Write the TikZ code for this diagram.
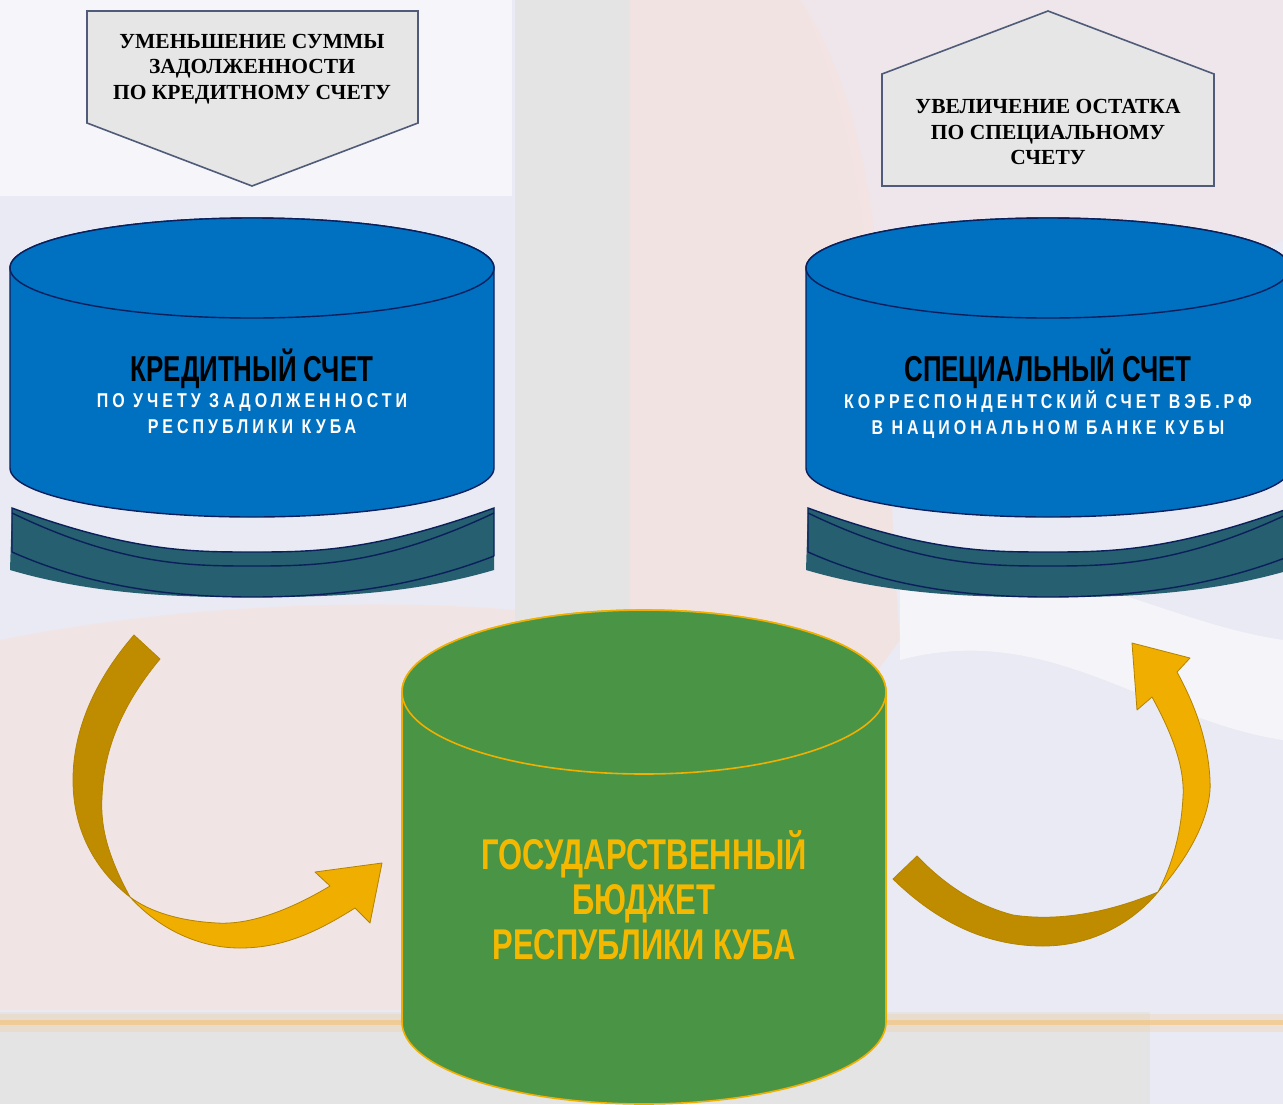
\documentclass[tikz,border=0pt]{standalone}
\usepackage{fontspec}
\setmainfont{Liberation Serif}
\newfontfamily\narrowsans[FakeStretch=0.72]{Liberation Sans}
\newfontfamily\spacedsans[FakeStretch=0.8,LetterSpace=20]{Liberation Sans}
\definecolor{bgbase}{HTML}{E9EAF3}
\definecolor{bgpink}{HTML}{F4E3E2}
\definecolor{bggrey}{HTML}{E4E4E5}
\definecolor{boxfill}{HTML}{E6E6E6}
\definecolor{boxline}{HTML}{4F5B78}
\definecolor{cylblue}{HTML}{0070C0}
\definecolor{navy}{HTML}{0A1F5C}
\definecolor{tealbase}{HTML}{265F6F}
\definecolor{cylgreen}{HTML}{4A9446}
\definecolor{goldline}{HTML}{F0B000}
\definecolor{goldtext}{HTML}{F5B800}
\definecolor{arrowdark}{HTML}{BF8C00}
\definecolor{arrowlight}{HTML}{F0AE00}
\definecolor{arrowedge}{HTML}{B38300}
\definecolor{glow}{HTML}{F2C88A}
\tikzset{
  pentabox/.style={fill=boxfill, draw=boxline, line width=1.6pt, line join=miter},
  bluecyl/.style={fill=cylblue, draw=navy, line width=1.4pt},
  tealring/.style={fill=tealbase},
  tealedge/.style={draw=navy, line width=1.4pt},
  greencyl/.style={fill=cylgreen, draw=goldline, line width=1.6pt},
  darkband/.style={fill=arrowdark, draw=arrowedge, line width=0.8pt, line join=round},
  lightband/.style={fill=arrowlight, draw=arrowedge, line width=0.8pt, line join=round},
  boxtext/.style={font=\fontsize{21.5}{25.3}\selectfont\bfseries, align=center, text=black, inner sep=0pt},
  titletext/.style={font=\narrowsans\fontsize{36}{40}\selectfont\bfseries, text=black, inner sep=0pt},
  subtext/.style={font=\spacedsans\fontsize{20}{26}\selectfont\bfseries, align=center, text=white, inner sep=0pt},
  budgettext/.style={font=\narrowsans\fontsize{43}{45}\selectfont\bfseries, align=center, text=goldtext, inner sep=0pt},
}
\begin{document}
\begin{tikzpicture}[x=1pt,y=-1pt]
\useasboundingbox (0,0) rectangle (1283,1104);
% ---------- background ----------
\fill[bgbase] (0,0) rectangle (1283,1104);
\fill[bgpink, opacity=0.8] (0,640) .. controls (200,600) and (400,600) .. (515,610) -- (515,1010) -- (0,1010) -- cycle;
\fill[bgpink, opacity=0.9] (630,0) -- (800,0) .. controls (900,150) and (880,400) .. (900,640) -- (630,1010) -- cycle;
\fill[bgpink, opacity=0.5] (800,0) -- (1283,0) -- (1283,240) .. controls (1150,300) and (1000,420) .. (880,500) .. controls (880,300) and (860,120) .. (800,0) -- cycle;
\fill[white, opacity=0.6] (0,0) rectangle (512,196);
\fill[bggrey] (515,0) rectangle (630,1010);
\fill[white, opacity=0.5] (900,660) .. controls (1050,620) and (1150,720) .. (1283,740) -- (1283,640) .. controls (1150,620) and (1050,540) .. (900,580) -- cycle;
\fill[bggrey] (0,1012) rectangle (1150,1104);
\fill[glow, opacity=0.25] (0,1014) rectangle (1283,1032);
\fill[glow, opacity=0.8] (0,1020) rectangle (1283,1025);
% ---------- top pentagon boxes ----------
\draw[pentabox] (87,11) -- (418,11) -- (418,123) -- (252,186) -- (87,123) -- cycle;
\node[boxtext] (decrease) at (252,69) {УМЕНЬШЕНИЕ СУММЫ\\ЗАДОЛЖЕННОСТИ\\ПО КРЕДИТНОМУ СЧЕТУ};
\draw[pentabox] (882,186) -- (882,74) -- (1048,11) -- (1214,74) -- (1214,186) -- cycle;
\node[boxtext] (increase) at (1048,132) {УВЕЛИЧЕНИЕ ОСТАТКА\\ПО СПЕЦИАЛЬНОМУ\\СЧЕТУ};
% ---------- teal bases ----------
\foreach \cx in {252,1048}{
  \fill[tealring] (\cx-240,508) .. controls (\cx-120,552) and (\cx-60,552) .. (\cx,552)
     .. controls (\cx+60,552) and (\cx+120,552) .. (\cx+242,508) -- (\cx+242,570)
     .. controls (\cx+150,597) and (\cx+60,597) .. (\cx,597)
     .. controls (\cx-60,597) and (\cx-150,597) .. (\cx-242,570) -- cycle;
  \draw[tealedge] (\cx-240,552) -- (\cx-240,508) .. controls (\cx-120,552) and (\cx-60,552) .. (\cx,552)
     .. controls (\cx+60,552) and (\cx+120,552) .. (\cx+242,508) -- (\cx+242,556);
  \draw[tealedge] (\cx-240,513) .. controls (\cx-130,566) and (\cx-60,566) .. (\cx,566)
     .. controls (\cx+60,566) and (\cx+130,566) .. (\cx+242,513);
  \draw[tealedge] (\cx-240,552) .. controls (\cx-150,592) and (\cx-60,597) .. (\cx,597)
     .. controls (\cx+60,597) and (\cx+150,592) .. (\cx+242,556);
}
% ---------- blue cylinders ----------
\foreach \cx in {252,1048}{
  \draw[bluecyl] (\cx-242,268) -- (\cx-242,468) arc[start angle=180, end angle=360, x radius=242pt, y radius=49pt]
     -- (\cx+242,268) arc[start angle=0, end angle=180, x radius=242pt, y radius=50pt] -- cycle;
  \draw[bluecyl] (\cx,268) ellipse[x radius=242pt, y radius=50pt];
}
\node[titletext] (credit) at (252,369) {КРЕДИТНЫЙ СЧЕТ};
\node[subtext] (creditsub) at (252,414) {ПО УЧЕТУ ЗАДОЛЖЕННОСТИ\\РЕСПУБЛИКИ КУБА};
\node[titletext] (special) at (1048,369) {СПЕЦИАЛЬНЫЙ СЧЕТ};
\node[subtext] (specialsub) at (1048,414) {КОРРЕСПОНДЕНТСКИЙ СЧЕТ ВЭБ.РФ\\В НАЦИОНАЛЬНОМ БАНКЕ КУБЫ};
% ---------- green cylinder ----------
\draw[greencyl] (402,692) -- (402,1022) arc[start angle=180, end angle=360, x radius=242pt, y radius=82pt]
   -- (886,692) arc[start angle=0, end angle=180, x radius=242pt, y radius=82pt] -- cycle;
\draw[greencyl] (644,692) ellipse[x radius=242pt, y radius=82pt];
\node[budgettext] (budget) at (644,895) {ГОСУДАРСТВЕННЫЙ\\БЮДЖЕТ\\РЕСПУБЛИКИ КУБА};
% ---------- left curved arrow ----------
\draw[darkband] (134,635) .. controls (95,680) and (73,730) .. (73,780)
   .. controls (73,830) and (95,870) .. (130,897)
   .. controls (110,860) and (100,830) .. (102,797)
   .. controls (104,740) and (130,695) .. (160,659) -- cycle;
\draw[lightband] (130,897) .. controls (160,930) and (200,948) .. (240,948)
   .. controls (285,948) and (320,930) .. (355,908) -- (370,923) -- (382,863) -- (315,872) -- (330,886)
   .. controls (290,910) and (250,925) .. (217,923)
   .. controls (180,921) and (150,912) .. (130,897) -- cycle;
% ---------- right curved arrow ----------
\draw[darkband] (893,879) .. controls (940,925) and (990,946) .. (1043,946)
   .. controls (1095,946) and (1135,920) .. (1158,892)
   .. controls (1110,912) and (1060,922) .. (1013,915)
   .. controls (975,905) and (945,885) .. (917,856) -- cycle;
\draw[lightband] (1158,892) .. controls (1195,850) and (1212,810) .. (1210,780)
   .. controls (1208,740) and (1195,705) .. (1177,672) -- (1190,658) -- (1132,643) -- (1137,710) -- (1152,697)
   .. controls (1170,730) and (1185,765) .. (1183,797)
   .. controls (1181,835) and (1172,865) .. (1158,892) -- cycle;
\end{tikzpicture}
\end{document}
